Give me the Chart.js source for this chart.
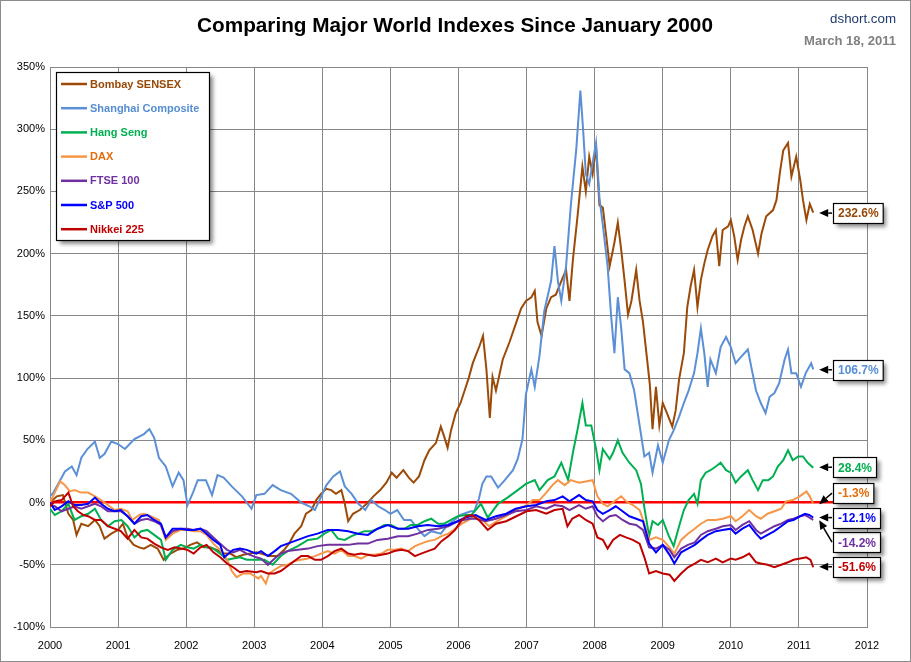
<!DOCTYPE html>
<html><head><meta charset="utf-8">
<script src="https://cdn.jsdelivr.net/npm/chart.js@4.4.1/dist/chart.umd.min.js"></script>
<style>html,body{margin:0;padding:0;background:#fff;overflow:hidden}#wrap{width:911px;height:662px;position:relative}</style>
</head><body><div id="wrap"><canvas id="c" width="911" height="662"></canvas></div>
<script>
// ---------------- DATA ----------------
const titleText = 'Comparing Major World Indexes Since January 2000';
const siteText = 'dshort.com';
const dateText = 'March 18, 2011';
const yearLabels = ['2000','2001','2002','2003','2004','2005','2006','2007','2008','2009','2010','2011','2012'];
const seriesNames = ['Bombay SENSEX','Shanghai Composite','Hang Seng','DAX','FTSE 100','S&P 500','Nikkei 225'];
const endValues = [232.6, 106.7, 28.4, -1.3, -14.2, -12.1, -51.6];

const bombay = [[2000.00,0],[2000.10,5],[2000.19,6],[2000.27,-9],[2000.34,-14],[2000.39,-26],[2000.46,-17],[2000.56,-19],[2000.66,-14],[2000.73,-19],[2000.80,-29],[2000.90,-25],[2001.00,-22],[2001.07,-17],[2001.14,-28],[2001.23,-34],[2001.31,-36],[2001.38,-37],[2001.48,-34],[2001.58,-37],[2001.67,-46],[2001.77,-41],[2001.87,-38],[2001.96,-37],[2002.06,-34],[2002.16,-32],[2002.26,-36],[2002.35,-36],[2002.45,-38],[2002.55,-41],[2002.65,-41],[2002.74,-44],[2002.84,-42],[2002.94,-41],[2003.03,-40],[2003.10,-41],[2003.22,-43],[2003.34,-43],[2003.44,-38],[2003.51,-33],[2003.59,-25],[2003.69,-19],[2003.76,-9],[2003.84,-6],[2003.91,2],[2003.98,7],[2004.06,11],[2004.13,10],[2004.20,7],[2004.28,10],[2004.33,-1],[2004.38,-15],[2004.45,-9],[2004.55,-6],[2004.65,-1],[2004.75,5],[2004.85,10],[2004.94,16],[2005.02,24],[2005.09,20],[2005.19,26],[2005.27,20],[2005.34,16],[2005.42,21],[2005.50,34],[2005.57,42],[2005.67,48],[2005.74,61],[2005.79,53],[2005.84,44],[2005.89,58],[2005.96,72],[2006.03,80],[2006.09,90],[2006.15,100],[2006.21,112],[2006.31,126],[2006.36,134],[2006.41,107],[2006.46,68],[2006.50,101],[2006.55,90],[2006.65,115],[2006.75,129],[2006.85,145],[2006.92,156],[2006.99,162],[2007.07,165],[2007.12,170],[2007.16,145],[2007.22,134],[2007.29,156],[2007.36,165],[2007.43,167],[2007.51,178],[2007.58,187],[2007.63,162],[2007.68,195],[2007.75,231],[2007.82,270],[2007.87,250],[2007.92,278],[2007.97,264],[2008.02,286],[2008.07,239],[2008.12,237],[2008.17,214],[2008.22,190],[2008.29,209],[2008.34,225],[2008.39,203],[2008.44,178],[2008.49,151],[2008.54,162],[2008.61,187],[2008.66,162],[2008.71,145],[2008.76,120],[2008.81,95],[2008.85,59],[2008.90,93],[2008.95,62],[2009.00,80],[2009.06,72],[2009.14,61],[2009.19,74],[2009.24,99],[2009.31,120],[2009.36,157],[2009.41,174],[2009.46,187],[2009.51,157],[2009.56,179],[2009.61,192],[2009.66,203],[2009.73,214],[2009.78,219],[2009.83,190],[2009.88,219],[2009.96,222],[2010.00,227],[2010.05,214],[2010.10,195],[2010.15,211],[2010.20,222],[2010.25,230],[2010.32,219],[2010.40,200],[2010.45,216],[2010.52,230],[2010.62,235],[2010.67,243],[2010.72,265],[2010.77,283],[2010.84,289],[2010.89,262],[2010.96,278],[2011.02,259],[2011.06,243],[2011.11,227],[2011.16,240],[2011.21,233]];

const shanghai = [[2000.00,5],[2000.05,8],[2000.12,15],[2000.22,25],[2000.32,29],[2000.39,22],[2000.46,36],[2000.55,43],[2000.66,49],[2000.73,36],[2000.80,39],[2000.90,49],[2001.00,47],[2001.10,43],[2001.24,51],[2001.38,55],[2001.46,59],[2001.53,52],[2001.60,36],[2001.70,29],[2001.80,13],[2001.89,24],[2001.96,18],[2002.02,-2],[2002.10,8],[2002.17,18],[2002.29,18],[2002.38,6],[2002.46,22],[2002.55,20],[2002.67,13],[2002.82,5],[2002.96,-5],[2003.03,6],[2003.15,7],[2003.27,14],[2003.39,10],[2003.54,7],[2003.69,0],[2003.81,-3],[2003.89,-6],[2003.96,2],[2004.06,14],[2004.16,21],[2004.26,25],[2004.33,13],[2004.43,7],[2004.53,-1],[2004.63,-6],[2004.72,2],[2004.82,-3],[2004.92,-6],[2005.00,-9],[2005.10,-6],[2005.20,-14],[2005.30,-14],[2005.40,-21],[2005.50,-27],[2005.60,-23],[2005.74,-25],[2005.84,-18],[2005.94,-14],[2006.03,-10],[2006.18,-7],[2006.23,-7],[2006.30,3],[2006.35,15],[2006.41,21],[2006.48,21],[2006.58,12],[2006.68,18],[2006.80,26],[2006.87,35],[2006.94,51],[2006.99,87],[2007.07,107],[2007.12,93],[2007.19,118],[2007.26,154],[2007.36,178],[2007.41,206],[2007.46,178],[2007.51,162],[2007.58,190],[2007.65,239],[2007.73,284],[2007.79,331],[2007.83,300],[2007.87,264],[2007.92,256],[2007.97,273],[2008.02,289],[2008.07,245],[2008.12,223],[2008.19,190],[2008.24,151],[2008.29,120],[2008.34,165],[2008.39,140],[2008.44,107],[2008.51,104],[2008.58,90],[2008.66,62],[2008.73,37],[2008.80,40],[2008.85,24],[2008.93,46],[2009.00,32],[2009.09,50],[2009.16,58],[2009.24,69],[2009.31,80],[2009.38,90],[2009.46,104],[2009.51,120],[2009.56,140],[2009.61,120],[2009.66,93],[2009.70,115],[2009.78,104],[2009.85,125],[2009.93,133],[2010.00,125],[2010.07,112],[2010.15,117],[2010.25,123],[2010.30,109],[2010.37,90],[2010.44,80],[2010.51,72],[2010.57,85],[2010.64,88],[2010.71,96],[2010.79,115],[2010.84,123],[2010.89,104],[2010.96,104],[2011.03,93],[2011.10,104],[2011.18,112],[2011.21,107]];

const hangSeng = [[2000.00,-5],[2000.07,-10],[2000.17,-7],[2000.27,-1],[2000.36,-14],[2000.46,-11],[2000.56,-9],[2000.66,-5],[2000.75,-14],[2000.85,-19],[2000.95,-15],[2001.05,-14],[2001.14,-19],[2001.24,-28],[2001.34,-23],[2001.43,-22],[2001.53,-26],[2001.63,-30],[2001.70,-46],[2001.80,-38],[2001.92,-34],[2002.02,-36],[2002.11,-37],[2002.21,-34],[2002.30,-36],[2002.40,-37],[2002.50,-41],[2002.60,-46],[2002.69,-45],[2002.79,-44],[2002.89,-46],[2003.03,-46],[2003.15,-46],[2003.27,-50],[2003.39,-43],[2003.49,-39],[2003.64,-35],[2003.79,-30],[2003.93,-29],[2004.03,-25],[2004.13,-22],[2004.23,-29],[2004.33,-30],[2004.43,-27],[2004.52,-25],[2004.62,-23],[2004.72,-23],[2004.82,-21],[2004.91,-18],[2005.01,-18],[2005.11,-21],[2005.21,-21],[2005.30,-18],[2005.40,-18],[2005.50,-15],[2005.60,-13],[2005.70,-17],[2005.79,-17],[2005.89,-14],[2005.99,-11],[2006.10,-10],[2006.19,-10],[2006.33,-1],[2006.43,-12],[2006.58,-1],[2006.72,4],[2006.87,10],[2006.99,15],[2007.12,18],[2007.19,10],[2007.31,18],[2007.41,21],[2007.51,32],[2007.61,18],[2007.68,40],[2007.75,59],[2007.82,80],[2007.87,62],[2007.95,62],[2008.02,43],[2008.07,26],[2008.12,43],[2008.22,35],[2008.27,40],[2008.34,50],[2008.41,40],[2008.51,32],[2008.61,26],[2008.68,15],[2008.73,-4],[2008.80,-27],[2008.85,-15],[2008.93,-18],[2009.00,-14],[2009.09,-27],[2009.16,-35],[2009.24,-19],[2009.31,-6],[2009.38,2],[2009.46,7],[2009.51,-1],[2009.56,18],[2009.63,24],[2009.70,26],[2009.78,29],[2009.85,32],[2009.93,26],[2010.00,24],[2010.07,16],[2010.15,21],[2010.25,26],[2010.32,18],[2010.40,10],[2010.47,18],[2010.55,18],[2010.62,21],[2010.69,29],[2010.77,34],[2010.84,42],[2010.91,34],[2010.99,37],[2011.06,37],[2011.13,32],[2011.21,28]];

const dax = [[2000.00,0],[2000.07,8],[2000.15,17],[2000.22,14],[2000.29,9],[2000.36,10],[2000.46,8],[2000.56,8],[2000.66,5],[2000.75,2],[2000.85,-2],[2000.95,-6],[2001.04,-5],[2001.14,-7],[2001.21,-14],[2001.31,-10],[2001.38,-9],[2001.48,-11],[2001.60,-14],[2001.70,-30],[2001.80,-25],[2001.92,-22],[2002.02,-22],[2002.11,-23],[2002.21,-23],[2002.30,-26],[2002.40,-33],[2002.50,-38],[2002.60,-46],[2002.67,-55],[2002.74,-60],[2002.84,-57],[2002.94,-57],[2003.06,-61],[2003.10,-59],[2003.17,-65],[2003.22,-57],[2003.30,-54],[2003.39,-51],[2003.49,-50],[2003.59,-47],[2003.69,-46],[2003.79,-45],[2003.89,-43],[2003.98,-41],[2004.08,-39],[2004.18,-41],[2004.28,-38],[2004.38,-43],[2004.47,-43],[2004.57,-45],[2004.67,-42],[2004.77,-42],[2004.87,-41],[2004.96,-38],[2005.06,-38],[2005.16,-37],[2005.26,-39],[2005.36,-35],[2005.45,-33],[2005.55,-31],[2005.65,-30],[2005.75,-27],[2005.85,-25],[2005.95,-21],[2006.05,-17],[2006.15,-14],[2006.25,-10],[2006.35,-14],[2006.45,-19],[2006.57,-15],[2006.70,-11],[2006.84,-6],[2007.00,-2],[2007.09,2],[2007.19,2],[2007.29,8],[2007.38,14],[2007.46,18],[2007.56,14],[2007.65,18],[2007.77,16],[2007.87,17],[2007.97,18],[2008.04,5],[2008.12,-1],[2008.19,-3],[2008.29,1],[2008.39,5],[2008.46,1],[2008.56,-2],[2008.66,-6],[2008.73,-17],[2008.80,-30],[2008.90,-28],[2009.00,-30],[2009.10,-36],[2009.17,-41],[2009.27,-30],[2009.37,-25],[2009.47,-21],[2009.56,-17],[2009.66,-14],[2009.78,-14],[2009.88,-13],[2010.00,-11],[2010.07,-15],[2010.17,-11],[2010.27,-6],[2010.37,-11],[2010.44,-13],[2010.54,-9],[2010.64,-7],[2010.74,-5],[2010.81,1],[2010.91,2],[2011.01,5],[2011.11,9],[2011.16,5],[2011.21,-1]];

const ftse = [[2000.00,-2],[2000.07,-3],[2000.17,-7],[2000.27,-5],[2000.36,-3],[2000.46,-5],[2000.56,-3],[2000.66,-1],[2000.75,-3],[2000.85,-7],[2000.95,-7],[2001.04,-7],[2001.14,-11],[2001.24,-17],[2001.34,-14],[2001.43,-13],[2001.53,-15],[2001.63,-18],[2001.70,-28],[2001.80,-23],[2001.92,-21],[2002.02,-21],[2002.11,-22],[2002.21,-21],[2002.30,-23],[2002.40,-28],[2002.50,-33],[2002.60,-38],[2002.69,-40],[2002.79,-38],[2002.89,-41],[2003.03,-44],[2003.10,-45],[2003.20,-50],[2003.30,-45],[2003.39,-41],[2003.49,-39],[2003.64,-38],[2003.79,-37],[2003.93,-35],[2004.08,-34],[2004.23,-34],[2004.38,-34],[2004.52,-33],[2004.67,-33],[2004.81,-30],[2004.96,-29],[2005.11,-27],[2005.26,-27],[2005.40,-25],[2005.55,-22],[2005.70,-21],[2005.85,-19],[2005.99,-15],[2006.16,-13],[2006.25,-13],[2006.40,-15],[2006.55,-13],[2006.70,-10],[2006.84,-7],[2007.00,-6],[2007.14,-3],[2007.29,-5],[2007.41,-2],[2007.53,-3],[2007.63,-6],[2007.77,-2],[2007.87,-5],[2007.97,-3],[2008.04,-11],[2008.12,-15],[2008.22,-11],[2008.31,-10],[2008.41,-14],[2008.51,-17],[2008.61,-18],[2008.71,-22],[2008.80,-36],[2008.90,-37],[2009.00,-34],[2009.10,-38],[2009.17,-44],[2009.27,-37],[2009.37,-34],[2009.47,-32],[2009.56,-26],[2009.66,-23],[2009.78,-21],[2009.88,-19],[2010.00,-18],[2010.07,-22],[2010.17,-18],[2010.27,-15],[2010.37,-22],[2010.44,-25],[2010.54,-22],[2010.64,-19],[2010.74,-17],[2010.84,-14],[2010.92,-13],[2011.02,-11],[2011.09,-10],[2011.15,-12],[2011.21,-14]];

const sp500 = [[2000.00,0],[2000.07,-6],[2000.17,-3],[2000.27,1],[2000.36,-2],[2000.46,-2],[2000.56,-1],[2000.66,4],[2000.75,-1],[2000.85,-5],[2000.95,-7],[2001.04,-6],[2001.14,-11],[2001.24,-17],[2001.34,-11],[2001.43,-10],[2001.53,-14],[2001.63,-17],[2001.70,-28],[2001.80,-21],[2001.92,-21],[2002.02,-22],[2002.11,-22],[2002.21,-21],[2002.30,-25],[2002.40,-30],[2002.50,-34],[2002.56,-44],[2002.69,-38],[2002.79,-37],[2002.89,-38],[2003.03,-41],[2003.10,-39],[2003.20,-43],[2003.30,-39],[2003.39,-35],[2003.49,-33],[2003.64,-30],[2003.79,-27],[2003.93,-25],[2004.08,-22],[2004.23,-22],[2004.38,-23],[2004.52,-25],[2004.67,-26],[2004.81,-21],[2004.96,-18],[2005.11,-21],[2005.26,-21],[2005.40,-19],[2005.55,-18],[2005.70,-19],[2005.85,-18],[2005.99,-15],[2006.10,-12],[2006.25,-10],[2006.40,-14],[2006.55,-11],[2006.70,-9],[2006.84,-5],[2007.00,-3],[2007.14,-2],[2007.29,1],[2007.41,2],[2007.53,5],[2007.63,1],[2007.77,6],[2007.87,2],[2007.97,1],[2008.04,-6],[2008.12,-9],[2008.22,-6],[2008.31,-3],[2008.41,-7],[2008.51,-11],[2008.61,-13],[2008.71,-15],[2008.80,-33],[2008.90,-40],[2009.00,-34],[2009.10,-42],[2009.17,-49],[2009.27,-40],[2009.37,-37],[2009.47,-34],[2009.56,-30],[2009.66,-26],[2009.78,-23],[2009.88,-22],[2010.00,-21],[2010.07,-25],[2010.17,-21],[2010.27,-18],[2010.37,-25],[2010.44,-29],[2010.54,-26],[2010.64,-23],[2010.74,-19],[2010.84,-15],[2010.92,-14],[2011.02,-11],[2011.09,-9],[2011.15,-10],[2011.21,-12]];

const nikkei = [[2000.00,-3],[2000.07,1],[2000.17,2],[2000.27,8],[2000.34,-3],[2000.41,-7],[2000.49,-10],[2000.56,-11],[2000.66,-14],[2000.75,-14],[2000.85,-19],[2000.95,-21],[2001.04,-23],[2001.14,-29],[2001.24,-22],[2001.34,-28],[2001.43,-29],[2001.53,-33],[2001.63,-36],[2001.73,-38],[2001.83,-36],[2001.92,-37],[2002.02,-38],[2002.11,-41],[2002.21,-36],[2002.30,-34],[2002.40,-40],[2002.50,-44],[2002.60,-49],[2002.69,-52],[2002.79,-56],[2002.89,-55],[2003.03,-56],[2003.10,-55],[2003.20,-57],[2003.30,-57],[2003.39,-55],[2003.49,-51],[2003.59,-47],[2003.69,-43],[2003.79,-43],[2003.89,-46],[2003.98,-46],[2004.08,-43],[2004.18,-39],[2004.28,-37],[2004.38,-41],[2004.47,-42],[2004.57,-41],[2004.67,-42],[2004.77,-43],[2004.87,-42],[2004.96,-41],[2005.06,-39],[2005.16,-38],[2005.26,-39],[2005.36,-43],[2005.45,-41],[2005.55,-39],[2005.65,-37],[2005.75,-31],[2005.85,-27],[2005.95,-22],[2006.05,-14],[2006.12,-11],[2006.20,-10],[2006.30,-14],[2006.43,-22],[2006.55,-17],[2006.70,-15],[2006.85,-11],[2007.00,-7],[2007.14,-6],[2007.29,-9],[2007.41,-6],[2007.53,-5],[2007.60,-19],[2007.67,-13],[2007.77,-10],[2007.87,-14],[2007.97,-17],[2008.04,-28],[2008.12,-30],[2008.19,-37],[2008.27,-30],[2008.37,-26],[2008.46,-28],[2008.56,-30],[2008.66,-33],[2008.73,-44],[2008.80,-57],[2008.90,-55],[2009.00,-57],[2009.10,-58],[2009.17,-63],[2009.27,-57],[2009.37,-52],[2009.47,-49],[2009.56,-46],[2009.66,-48],[2009.78,-45],[2009.88,-48],[2010.00,-45],[2010.07,-46],[2010.17,-44],[2010.27,-41],[2010.37,-48],[2010.44,-49],[2010.54,-50],[2010.64,-52],[2010.74,-50],[2010.84,-48],[2010.92,-46],[2011.02,-45],[2011.11,-44],[2011.17,-46],[2011.21,-52]];

// ---------------- STYLE ----------------
const allSeries = [bombay, shanghai, hangSeng, dax, ftse, sp500, nikkei];
const lineColors = ['#9C4A08','#5B8FD6','#00B050','#F79646','#7030A0','#0000FF','#C00000'];
const textColors = ['#984807','#558ED5','#00B050','#E46C0A','#7030A0','#0000FF','#C00000'];
const FONT = "'Liberation Sans', Arial, sans-serif";
const NARROW = "'Liberation Sans Narrow', 'Arial Narrow', 'Liberation Sans', sans-serif";
const GRID = '#878787';

function fitFont(ctx, text, weight, family, target) {
  ctx.font = weight + ' 20px ' + family;
  const w = ctx.measureText(text).width;
  return weight + ' ' + (20 * target / w).toFixed(2) + 'px ' + family;
}

function arrow(ctx, x1, y1, x2, y2) {
  const a = Math.atan2(y2 - y1, x2 - x1), L = 9, W = 4;
  const bx = x2 - L * Math.cos(a), by = y2 - L * Math.sin(a);
  ctx.beginPath(); ctx.moveTo(x1, y1); ctx.lineTo(bx, by);
  ctx.strokeStyle = '#000'; ctx.lineWidth = 1.5; ctx.stroke();
  ctx.beginPath(); ctx.moveTo(x2, y2);
  ctx.lineTo(bx + W * Math.sin(a), by - W * Math.cos(a));
  ctx.lineTo(bx - W * Math.sin(a), by + W * Math.cos(a));
  ctx.closePath(); ctx.fillStyle = '#000'; ctx.fill();
}

function shadowBox(ctx, x, y, w, h) {
  ctx.save();
  ctx.shadowColor = 'rgba(0,0,0,0.45)'; ctx.shadowBlur = 4; ctx.shadowOffsetX = 3; ctx.shadowOffsetY = 3;
  ctx.fillStyle = '#fff'; ctx.fillRect(x, y, w, h);
  ctx.restore();
  ctx.strokeStyle = '#000'; ctx.lineWidth = 1.2; ctx.strokeRect(x, y, w, h);
}

// label box offsets (layout only): vertical shift of the box relative to the arrow tip
const labelShift = [0, 0, 0, -11, 22, 0, 0];

const decor = {
  id: 'decor',
  afterDatasetsDraw(chart) {
    const ctx = chart.ctx, xs = chart.scales.x, ys = chart.scales.y;
    ctx.save();
    // title texts
    ctx.fillStyle = '#000'; ctx.textAlign = 'center'; ctx.textBaseline = 'alphabetic';
    ctx.font = fitFont(ctx, titleText, 'bold', NARROW, 516);
    ctx.fillText(titleText, 455, 32);
    ctx.textAlign = 'right';
    ctx.fillStyle = '#1F3A6E'; ctx.font = fitFont(ctx, siteText, 'normal', NARROW, 66);
    ctx.fillText(siteText, 896, 23);
    ctx.fillStyle = '#808080'; ctx.font = fitFont(ctx, dateText, 'bold', NARROW, 92);
    ctx.fillText(dateText, 896, 45);

    // legend
    shadowBox(ctx, 56.5, 72.5, 153, 168);
    ctx.textAlign = 'left'; ctx.textBaseline = 'middle';
    ctx.font = 'bold 11px ' + FONT;
    seriesNames.forEach((n, i) => {
      const y = 84 + i * 24.2;
      ctx.beginPath(); ctx.moveTo(61, y); ctx.lineTo(87, y);
      ctx.strokeStyle = lineColors[i]; ctx.lineWidth = 2.5; ctx.stroke();
      ctx.fillStyle = textColors[i]; ctx.fillText(n, 90, y + 0.5);
    });

    // end labels
    ctx.font = 'bold 12px ' + FONT;
    allSeries.forEach((s, i) => {
      const last = s[s.length - 1];
      const tipX = xs.getPixelForValue(last[0]) + 6;
      const tipY = ys.getPixelForValue(endValues[i]);
      const txt = endValues[i].toFixed(1) + '%';
      const tw = ctx.measureText(txt).width;
      const bx = 833, bh = 20, bw = tw + 9;
      const cy = tipY + labelShift[i];
      arrow(ctx, bx - 1, cy, tipX, tipY);
      shadowBox(ctx, bx + 0.5, Math.round(cy - bh / 2) + 0.5, bw, bh);
      ctx.fillStyle = textColors[i]; ctx.textAlign = 'left'; ctx.textBaseline = 'middle';
      ctx.fillText(txt, bx + 5, cy + 1);
    });

    // outer frame
    ctx.strokeStyle = '#8c8c8c'; ctx.lineWidth = 1; ctx.strokeRect(0.5, 0.5, 910, 661);
    ctx.restore();
  }
};

const datasets = allSeries.map((s, i) => ({
  label: seriesNames[i],
  data: s.map(p => ({ x: p[0], y: p[1] })),
  borderColor: lineColors[i],
  backgroundColor: lineColors[i],
  borderWidth: 2,
  pointRadius: 0,
  tension: 0,
  fill: false,
  order: allSeries.length - i
}));

new Chart(document.getElementById('c'), {
  type: 'line',
  data: { datasets },
  options: {
    responsive: false,
    animation: false,
    devicePixelRatio: 1,
    layout: { padding: { top: 67, right: 44, left: 0, bottom: 0 } },
    plugins: { legend: { display: false }, tooltip: { enabled: false }, title: { display: false } },
    scales: {
      x: {
        type: 'linear', min: 2000, max: 2012,
        afterFit: s => { s.height = 35; },
        ticks: { stepSize: 1, autoSkip: false, maxRotation: 0, color: '#000', font: { family: FONT, size: 11 }, padding: 12,
                 callback: v => yearLabels[Math.round(v) - 2000] },
        grid: { color: GRID, lineWidth: 1, drawTicks: false },
        border: { color: GRID, width: 1 }
      },
      y: {
        min: -100, max: 350,
        afterFit: s => { s.width = 50; },
        ticks: { stepSize: 50, color: '#000', font: { family: FONT, size: 11 }, padding: 5,
                 callback: v => v + '%' },
        grid: { color: c => (c.tick && c.tick.value === 0) ? '#FF0000' : GRID,
                lineWidth: c => (c.tick && c.tick.value === 0) ? 2.5 : 1, drawTicks: false },
        border: { color: GRID, width: 1 }
      }
    }
  },
  plugins: [decor]
});
</script></body></html>
